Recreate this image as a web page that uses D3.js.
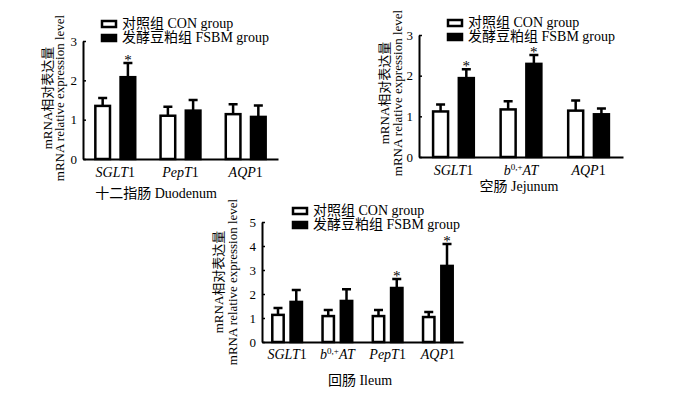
<!DOCTYPE html>
<html>
<head>
<meta charset="utf-8">
<script src="https://cdn.jsdelivr.net/npm/d3@7"></script>
<style>
  body { margin: 0; background: #fff; }
  svg text { font-family: "Times New Roman", "Liberation Serif", "Noto Sans CJK SC", serif; fill: #000; }
</style>
</head>
<body>
<div id="chart"></div>
<script>
// ---------------------------------------------------------------------------
// Data

const groups = ['CON', 'FSBM'];
const legendLabels = ['对照组 CON group', '发酵豆粕组 FSBM group'];
const yLabelCn = 'mRNA相对表达量';
const yLabelEn = 'mRNA relative expression level';

// 十二指肠 Duodenum
const duoGenes = ['SGLT1', 'PepT1', 'AQP1'];
const duoCon = [1.35, 1.10, 1.14];
const duoConErr = [0.20, 0.23, 0.25];
const duoFsbm = [2.08, 1.23, 1.07];
const duoFsbmErr = [0.36, 0.27, 0.29];
const duoSig = [true, false, false];
const duoTicks = [0, 1, 2, 3];

// 空肠 Jejunum
const jejGenes = ['SGLT1', 'b0,+AT', 'AQP1'];
const jejCon = [1.12, 1.17, 1.14];
const jejConErr = [0.17, 0.20, 0.25];
const jejFsbm = [1.94, 2.29, 1.05];
const jejFsbmErr = [0.22, 0.22, 0.14];
const jejSig = [true, true, false];
const jejTicks = [0, 1, 2, 3];

// 回肠 Ileum
const ileGenes = ['SGLT1', 'b0,+AT', 'PepT1', 'AQP1'];
const ileCon = [1.13, 1.08, 1.08, 1.04];
const ileConErr = [0.29, 0.25, 0.25, 0.21];
const ileFsbm = [1.67, 1.71, 2.25, 3.17];
const ileFsbmErr = [0.50, 0.49, 0.37, 0.91];
const ileSig = [false, false, true, true];
const ileTicks = [0, 1, 2, 3, 4, 5];

// ---------------------------------------------------------------------------
// Layout

const panels = [
  {
    title: '十二指肠 Duodenum', genes: duoGenes, con: duoCon, conErr: duoConErr,
    fsbm: duoFsbm, fsbmErr: duoFsbmErr, sig: duoSig, ticks: duoTicks,
    xRange: [83, 278], yRange: [159, 41], padIn: 0.35, padOut: 0.17, barPad: 0.32,
    legend: {x: 101, y: 21}, labelY: 177, titlePos: [156, 198], yLab: [47, 59, 98]
  },
  {
    title: '空肠 Jejunum', genes: jejGenes, con: jejCon, conErr: jejConErr,
    fsbm: jejFsbm, fsbmErr: jejFsbmErr, sig: jejSig, ticks: jejTicks,
    xRange: [419, 623], yRange: [157, 35], padIn: 0.36, padOut: 0.19, barPad: 0.32,
    legend: {x: 447, y: 20}, labelY: 175, titlePos: [519, 191], yLab: [384, 397, 93]
  },
  {
    title: '回肠 Ileum', genes: ileGenes, con: ileCon, conErr: ileConErr,
    fsbm: ileFsbm, fsbmErr: ileFsbmErr, sig: ileSig, ticks: ileTicks,
    xRange: [262, 463], yRange: [342, 222], padIn: 0.36, padOut: 0.18, barPad: 0.24,
    legend: {x: 292, y: 208}, labelY: 359, titlePos: [360, 385], yLab: [218, 232, 282]
  }
];

const width = 692;
const height = 396;
const sw = 2.5;   // bar / error bar stroke
const capW = 9;

const svg = d3.select('#chart').append('svg')
  .attr('width', width)
  .attr('height', height);

// gene label -> italic name, upright digit, superscript for b0,+AT
function writeGeneLabel(text, name) {
  if (name.startsWith('b0,+')) {
    text.append('tspan').style('font-style', 'italic').text('b');
    text.append('tspan').attr('font-size', 9).attr('dy', -5).text('0,+');
    text.append('tspan').style('font-style', 'italic').attr('dy', 5).text(name.slice(4));
  } else {
    const m = name.match(/^(.*?)(\d*)$/);
    text.append('tspan').style('font-style', 'italic').text(m[1]);
    if (m[2]) text.append('tspan').text(m[2]);
  }
}

panels.forEach(p => {
  const g = svg.append('g');

  const x = d3.scaleBand()
    .domain(p.genes)
    .range(p.xRange)
    .paddingInner(p.padIn)
    .paddingOuter(p.padOut);

  const xSub = d3.scaleBand()
    .domain(groups)
    .range([0, x.bandwidth()])
    .paddingInner(p.barPad);

  const y = d3.scaleLinear()
    .domain(d3.extent(p.ticks))
    .range(p.yRange);

  const rows = [];
  p.genes.forEach((gene, i) => {
    rows.push({gene, group: 'CON', value: p.con[i], err: p.conErr[i], sig: false});
    rows.push({gene, group: 'FSBM', value: p.fsbm[i], err: p.fsbmErr[i], sig: p.sig[i]});
  });

  // bars
  g.selectAll('.bar')
    .data(rows)
    .enter().append('rect')
    .attr('class', 'bar')
    .attr('x', d => x(d.gene) + xSub(d.group) + sw / 2)
    .attr('y', d => y(d.value))
    .attr('width', xSub.bandwidth() - sw)
    .attr('height', d => y(0) - y(d.value))
    .attr('fill', d => d.group === 'CON' ? '#fff' : '#000')
    .attr('stroke', '#000')
    .attr('stroke-width', sw);

  // error bars (upper only)
  const cx = d => x(d.gene) + xSub(d.group) + xSub.bandwidth() / 2;
  g.selectAll('.err')
    .data(rows)
    .enter().append('path')
    .attr('class', 'err')
    .attr('d', d => `M${cx(d)},${y(d.value)}V${y(d.value + d.err)}M${cx(d) - capW / 2},${y(d.value + d.err)}H${cx(d) + capW / 2}`)
    .attr('fill', 'none')
    .attr('stroke', '#000')
    .attr('stroke-width', sw);

  // significance stars
  g.selectAll('.star')
    .data(rows.filter(d => d.sig))
    .enter().append('text')
    .attr('class', 'star')
    .attr('x', cx)
    .attr('y', d => y(d.value + d.err) + 2)
    .attr('text-anchor', 'middle')
    .attr('font-size', 15)
    .text('*');

  // y axis (ticks point inward)
  const yAxis = g.append('g')
    .attr('transform', `translate(${p.xRange[0]},0)`)
    .call(d3.axisLeft(y).tickValues(p.ticks).tickFormat(d3.format('d'))
      .tickSizeInner(-3).tickSizeOuter(0).tickPadding(6));
  yAxis.select('.domain').attr('stroke-width', 2);
  yAxis.selectAll('.tick line').attr('stroke-width', 1.5);
  yAxis.selectAll('.tick text')
    .attr('font-size', 13)
    .style('font-family', '"Times New Roman", "Liberation Serif", serif');

  // x axis line
  const xAxis = g.append('g')
    .attr('transform', `translate(0,${y(0)})`)
    .call(d3.axisBottom(x).tickValues([]).tickSizeOuter(0));
  xAxis.select('.domain').attr('stroke-width', 2);

  // gene labels
  p.genes.forEach(gene => {
    const t = g.append('text')
      .attr('x', x(gene) + x.bandwidth() / 2)
      .attr('y', p.labelY)
      .attr('text-anchor', 'middle')
      .attr('font-size', 14);
    writeGeneLabel(t, gene);
  });

  // panel title
  g.append('text')
    .attr('x', p.titlePos[0])
    .attr('y', p.titlePos[1])
    .attr('text-anchor', 'middle')
    .attr('font-size', 14)
    .text(p.title);

  // y labels
  [yLabelCn, yLabelEn].forEach((lab, i) => {
    g.append('text')
      .attr('transform', `translate(${p.yLab[i]},${p.yLab[2]}) rotate(-90)`)
      .attr('text-anchor', 'middle')
      .attr('dy', '0.35em')
      .attr('font-size', 13)
      .text(lab);
  });

  // legend
  const leg = g.append('g').attr('transform', `translate(${p.legend.x},${p.legend.y})`);
  groups.forEach((grp, i) => {
    leg.append('rect')
      .attr('x', 1)
      .attr('y', i * 14)
      .attr('width', 14)
      .attr('height', 6)
      .attr('fill', grp === 'CON' ? '#fff' : '#000')
      .attr('stroke', '#000')
      .attr('stroke-width', sw);
    leg.append('text')
      .attr('x', 21)
      .attr('y', i * 14 + 7)
      .attr('font-size', 14)
      .text(legendLabels[i]);
  });
});
</script>
</body>
</html>
